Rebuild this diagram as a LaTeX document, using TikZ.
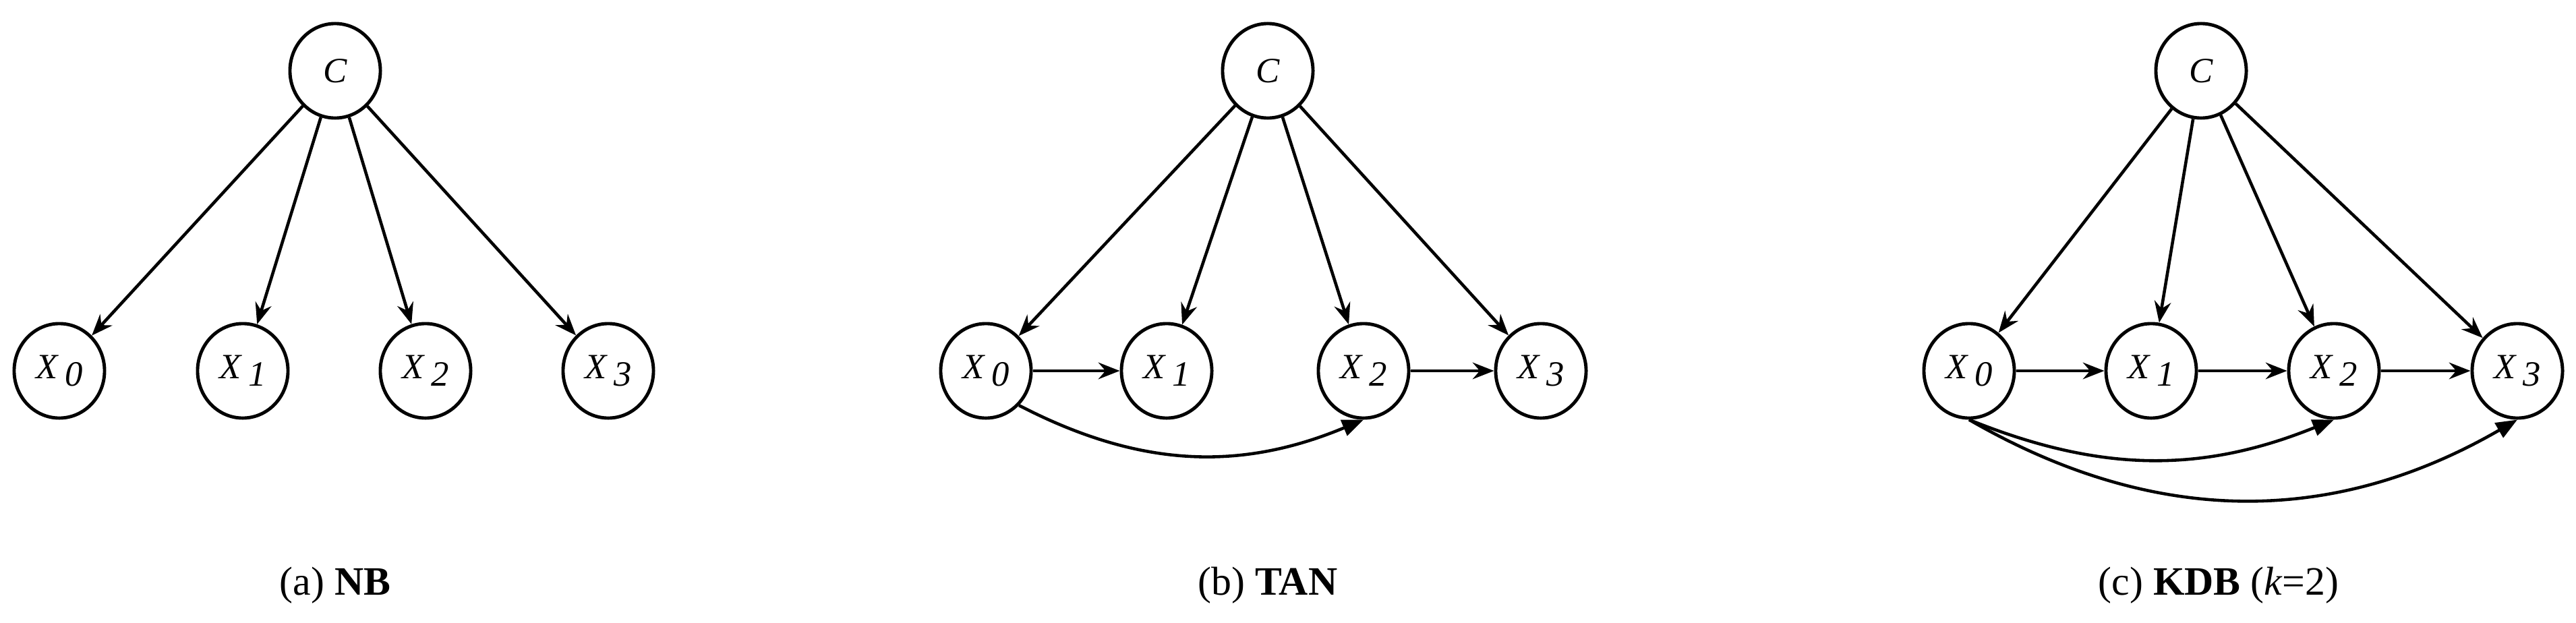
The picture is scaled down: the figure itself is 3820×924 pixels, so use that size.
\documentclass[tikz,border=0pt]{standalone}
\usepackage{fontspec}
\setmainfont{Liberation Serif}
\usetikzlibrary{arrows.meta,shapes.geometric}
\newcommand{\xv}[1]{\textit{X}\,\raisebox{-0.45ex}{\textit{#1}}}
\begin{document}
\begin{tikzpicture}[x=0.01cm,y=-0.01cm,
  nd/.style={ellipse,draw,line width=1.4pt,minimum width=1.34cm,minimum height=1.4cm,inner sep=0pt,font=\fontsize{15}{18}\selectfont},
  ar/.style={line width=1.3pt,-{Stealth[length=9pt,width=7pt,inset=3pt]}},
  cv/.style={line width=1.3pt,-{Triangle[length=9pt,width=7pt]}},
  captxt/.style={font=\fontsize{17}{20}\selectfont}]
\useasboundingbox (0,0) rectangle (3820,924);
% (a)
\node[nd] (aC) at (497,105) {\textit{C}};
\node[nd] (a0) at (88,550) {\xv{0}};
\node[nd] (a1) at (360,550) {\xv{1}};
\node[nd] (a2) at (631,550) {\xv{2}};
\node[nd] (a3) at (902,550) {\xv{3}};
\foreach \t in {a0,a1,a2,a3} \draw[ar] (aC) -- (\t);
\node[captxt] (acap) at (497,868) {(a) \textbf{NB}};
% (b)
\node[nd] (bC) at (1880,105) {\textit{C}};
\node[nd] (b0) at (1462,550) {\xv{0}};
\node[nd] (b1) at (1730,550) {\xv{1}};
\node[nd] (b2) at (2022,550) {\xv{2}};
\node[nd] (b3) at (2285,550) {\xv{3}};
\foreach \t in {b0,b1,b2,b3} \draw[ar] (bC) -- (\t);
\draw[ar] (b0) -- (b1);
\draw[ar] (b2) -- (b3);
\draw[cv] (b0.south east) to[bend right=25] (b2.south);
\node[captxt] (bcap) at (1880,868) {(b) \textbf{TAN}};
% (c)
\node[nd] (cC) at (3264,105) {\textit{C}};
\node[nd] (c0) at (2920,550) {\xv{0}};
\node[nd] (c1) at (3190,550) {\xv{1}};
\node[nd] (c2) at (3461,550) {\xv{2}};
\node[nd] (c3) at (3733,550) {\xv{3}};
\foreach \t in {c0,c1,c2,c3} \draw[ar] (cC) -- (\t);
\draw[ar] (c0) -- (c1);
\draw[ar] (c1) -- (c2);
\draw[ar] (c2) -- (c3);
\draw[cv] (c0.south) to[bend right=22] (c2.south);
\draw[cv] (c0.south) to[bend right=30] (c3.south);
\node[captxt] (ccap) at (3290,868) {(c) \textbf{KDB} (\textit{k}=2)};
\end{tikzpicture}
\end{document}
